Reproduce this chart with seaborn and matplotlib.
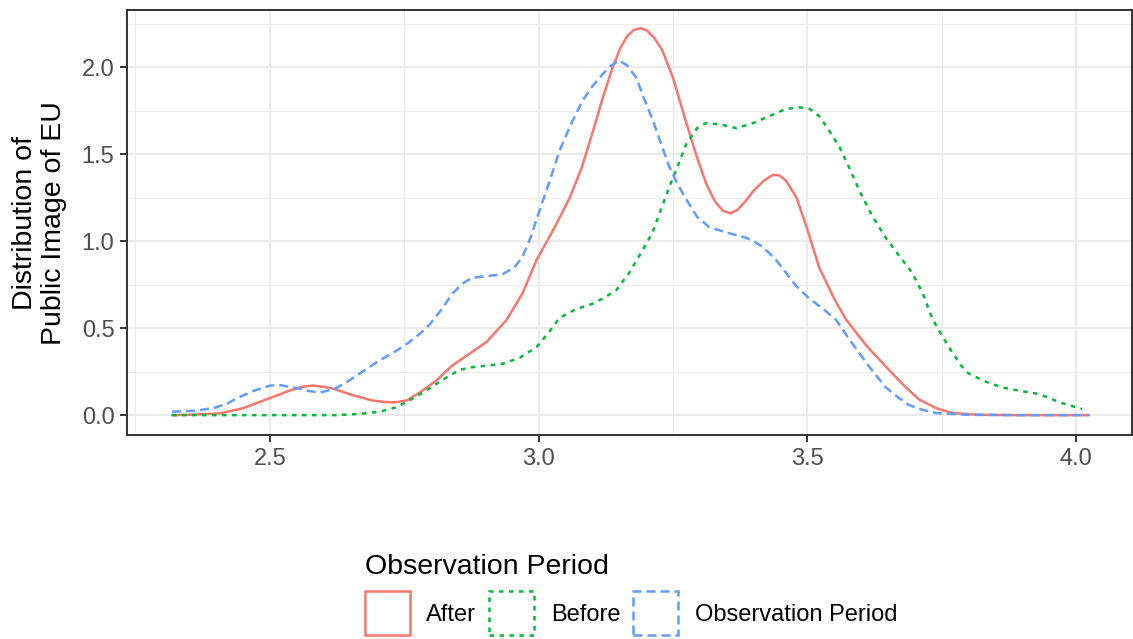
import pandas as pd
import seaborn as sns
import matplotlib.pyplot as plt
from matplotlib.patches import Patch
from matplotlib.ticker import MultipleLocator, AutoMinorLocator

# density curves
after_x = [2.318, 2.36, 2.407, 2.45, 2.50, 2.54, 2.56, 2.58, 2.60, 2.62, 2.654, 2.69, 2.715,
           2.735, 2.755, 2.779, 2.81, 2.84, 2.87, 2.903, 2.94, 2.97, 2.996, 3.03, 3.058,
           3.08, 3.10, 3.12, 3.138, 3.152, 3.165, 3.178, 3.19, 3.202, 3.215, 3.23, 3.25,
           3.275, 3.295, 3.312, 3.328, 3.343, 3.357, 3.37, 3.385, 3.40, 3.42, 3.435, 3.447,
           3.46, 3.48, 3.50, 3.522, 3.55, 3.572, 3.61, 3.646, 3.68, 3.708, 3.74, 3.77, 3.82,
           3.9, 4.024]
after_y = [0.0, 0.003, 0.01, 0.04, 0.098, 0.145, 0.163, 0.17, 0.163, 0.15, 0.115, 0.085, 0.075,
           0.074, 0.085, 0.13, 0.2, 0.287, 0.35, 0.42, 0.546, 0.70, 0.89, 1.08, 1.25,
           1.42, 1.62, 1.83, 2.0, 2.11, 2.18, 2.215, 2.225, 2.21, 2.17, 2.10, 1.94,
           1.68, 1.48, 1.33, 1.23, 1.175, 1.16, 1.18, 1.23, 1.29, 1.35, 1.38, 1.38,
           1.35, 1.25, 1.07, 0.85, 0.67, 0.55, 0.40, 0.28, 0.17, 0.09, 0.04, 0.012, 0.002,
           0.0, 0.0]

before_x = [2.318, 2.5, 2.625, 2.67, 2.705, 2.735, 2.76, 2.785, 2.81, 2.833, 2.853, 2.875,
            2.905, 2.933, 2.965, 2.996, 3.02, 3.039, 3.07, 3.10, 3.125, 3.145, 3.169, 3.19,
            3.212, 3.243, 3.26, 3.275, 3.295, 3.312, 3.34, 3.368, 3.40, 3.43, 3.46, 3.485,
            3.505, 3.522, 3.54, 3.56, 3.58, 3.597, 3.62, 3.646, 3.67, 3.695, 3.715, 3.732,
            3.75, 3.77, 3.785, 3.80, 3.83, 3.862, 3.895, 3.925, 3.95, 3.968, 3.99, 4.011]
before_y = [0.0, 0.0, 0.0, 0.008, 0.02, 0.045, 0.086, 0.13, 0.18, 0.225, 0.26, 0.275,
            0.285, 0.295, 0.33, 0.39, 0.48, 0.56, 0.61, 0.64, 0.68, 0.72, 0.82, 0.93,
            1.05, 1.31, 1.44, 1.56, 1.65, 1.68, 1.67, 1.65, 1.68, 1.72, 1.76, 1.77,
            1.76, 1.72, 1.64, 1.54, 1.41, 1.29, 1.15, 1.02, 0.92, 0.82, 0.70, 0.56,
            0.46, 0.36, 0.29, 0.24, 0.195, 0.16, 0.14, 0.125, 0.10, 0.075, 0.055, 0.035]

obs_x = [2.318, 2.36, 2.394, 2.42, 2.439, 2.47, 2.50, 2.52, 2.543, 2.57, 2.593, 2.62,
         2.643, 2.67, 2.699, 2.73, 2.755, 2.78, 2.797, 2.82, 2.84, 2.86, 2.877, 2.905,
         2.933, 2.955, 2.97, 2.985, 3.0, 3.02, 3.039, 3.06, 3.082, 3.10, 3.119, 3.135,
         3.15, 3.165, 3.182, 3.195, 3.212, 3.228, 3.243, 3.26, 3.275, 3.295, 3.318, 3.35,
         3.386, 3.40, 3.416, 3.44, 3.46, 3.48, 3.504, 3.53, 3.554, 3.575, 3.597, 3.62,
         3.646, 3.67, 3.69, 3.715, 3.74, 3.80, 3.9, 4.024]
obs_y = [0.02, 0.025, 0.04, 0.065, 0.098, 0.14, 0.17, 0.172, 0.16, 0.14, 0.13, 0.15,
         0.19, 0.245, 0.305, 0.36, 0.41, 0.47, 0.52, 0.61, 0.70, 0.76, 0.79, 0.80,
         0.81, 0.85, 0.91, 1.02, 1.16, 1.34, 1.52, 1.67, 1.81, 1.89, 1.96, 2.01,
         2.04, 2.01, 1.94, 1.83, 1.70, 1.56, 1.43, 1.32, 1.24, 1.14, 1.08, 1.05,
         1.02, 1.00, 0.97, 0.90, 0.82, 0.74, 0.67, 0.61, 0.546, 0.45, 0.356, 0.26,
         0.16, 0.10, 0.057, 0.03, 0.012, 0.002, 0.0, 0.0]

periods = ['After', 'Before', 'Observation Period']
colors = ['#F8766D', '#00BA38', '#619CFF']

df = pd.concat([
    pd.DataFrame({'x': after_x, 'y': after_y, 'period': 'After'}),
    pd.DataFrame({'x': before_x, 'y': before_y, 'period': 'Before'}),
    pd.DataFrame({'x': obs_x, 'y': obs_y, 'period': 'Observation Period'}),
])

sns.set_theme(style='white')
plt.rcParams['font.family'] = ['Liberation Sans', 'DejaVu Sans']
plt.rcParams['text.color'] = 'black'
plt.rcParams['lines.solid_joinstyle'] = 'round'

fig, ax = plt.subplots(figsize=(11.33, 6.39), dpi=100)
fig.subplots_adjust(left=0.112, right=0.999, top=0.984, bottom=0.319)

dot = (1.8, 2.2)
dash = (3.6, 2.0)
dash_map = {'After': '', 'Before': dot, 'Observation Period': dash}
sns.lineplot(data=df, x='x', y='y', hue='period', style='period',
             palette=dict(zip(periods, colors)), dashes=dash_map,
             estimator=None, sort=False, lw=1.8, legend=False, ax=ax)

ax.set_xlim(2.234, 4.104)
ax.set_ylim(-0.115, 2.328)
ax.xaxis.set_major_locator(MultipleLocator(0.5))
ax.yaxis.set_major_locator(MultipleLocator(0.5))
ax.xaxis.set_minor_locator(AutoMinorLocator(2))
ax.yaxis.set_minor_locator(AutoMinorLocator(2))
ax.xaxis.set_major_formatter(plt.FormatStrFormatter('%.1f'))
ax.yaxis.set_major_formatter(plt.FormatStrFormatter('%.1f'))
ax.grid(which='major', color='#EBEBEB', lw=1.4)
ax.grid(which='minor', color='#EBEBEB', lw=0.7)
ax.set_axisbelow(True)
for s in ax.spines.values():
    s.set_color('#333333')
    s.set_linewidth(1.4)
ax.tick_params(which='major', length=5, width=1.4, color='#333333',
               labelsize=17, labelcolor='#4D4D4D', pad=4, bottom=True, left=True)
ax.tick_params(which='minor', length=0)

ax.set_xlabel('')
ax.set_ylabel('Distribution of\nPublic Image of EU', fontsize=20.5, color='black',
              linespacing=1.15)
ax.yaxis.set_label_coords(-0.060, 0.5)

handles = [Patch(facecolor='none', edgecolor=colors[0], linewidth=1.8, linestyle='-'),
           Patch(facecolor='none', edgecolor=colors[1], linewidth=1.8, linestyle=(0, dot)),
           Patch(facecolor='none', edgecolor=colors[2], linewidth=1.8, linestyle=(0, dash))]
leg = fig.legend(handles, periods, title='Observation Period', loc='lower center',
                 bbox_to_anchor=(0.557, 0.0), ncol=3, frameon=False, alignment='left',
                 fontsize=17, title_fontsize=20.5, handlelength=1.9, handleheight=2.5,
                 handletextpad=0.7, columnspacing=0.55, borderaxespad=0.05, borderpad=0.1,
                 labelcolor='black')
leg.get_title().set_color('black')

plt.savefig('out.png', dpi=100)
